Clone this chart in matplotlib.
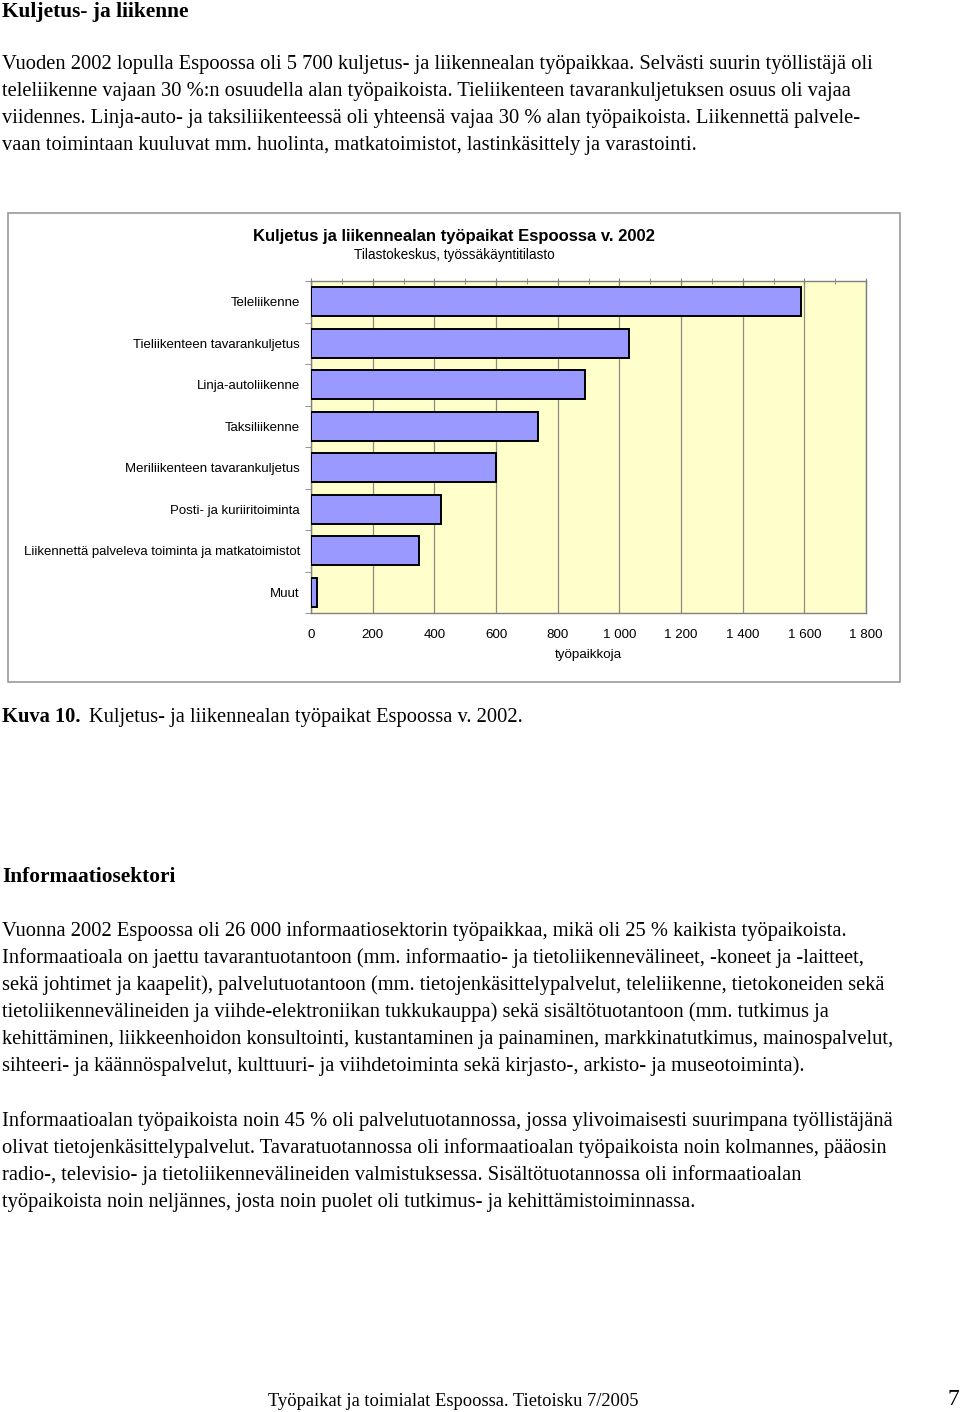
import matplotlib
matplotlib.use("Agg")
import matplotlib.pyplot as plt
from matplotlib.patches import Rectangle
from matplotlib.ticker import MultipleLocator, FixedLocator, FuncFormatter

categories = [
    "Teleliikenne",
    "Tieliikenteen tavarankuljetus",
    "Linja-autoliikenne",
    "Taksiliikenne",
    "Meriliikenteen tavarankuljetus",
    "Posti- ja kuriiritoiminta",
    "Liikennettä palveleva toiminta ja matkatoimistot",
    "Muut",
]
values = [1590, 1030, 890, 735, 600, 420, 350, 20]
x_ticks = [0, 200, 400, 600, 800, 1000, 1200, 1400, 1600, 1800]

chart_title = "Kuljetus ja liikennealan työpaikat Espoossa v. 2002"
chart_subtitle = "Tilastokeskus, työssäkäyntitilasto"
x_label = "työpaikkoja"

heading1 = "Kuljetus- ja liikenne"
para1 = [
    "Vuoden 2002 lopulla Espoossa oli 5 700 kuljetus- ja liikennealan työpaikkaa. Selvästi suurin työllistäjä oli",
    "teleliikenne vajaan 30 %:n osuudella alan työpaikoista. Tieliikenteen tavarankuljetuksen osuus oli vajaa",
    "viidennes. Linja-auto- ja taksiliikenteessä oli yhteensä vajaa 30 % alan työpaikoista. Liikennettä palvele-",
    "vaan toimintaan kuuluvat mm. huolinta, matkatoimistot, lastinkäsittely ja varastointi.",
]
caption_bold = "Kuva 10."
caption_rest = "Kuljetus- ja liikennealan työpaikat Espoossa v. 2002."
heading2 = "Informaatiosektori"
para2 = [
    "Vuonna 2002 Espoossa oli 26 000 informaatiosektorin työpaikkaa, mikä oli 25 % kaikista työpaikoista.",
    "Informaatioala on jaettu tavarantuotantoon (mm. informaatio- ja tietoliikennevälineet, -koneet ja -laitteet,",
    "sekä johtimet ja kaapelit), palvelutuotantoon (mm. tietojenkäsittelypalvelut, teleliikenne, tietokoneiden sekä",
    "tietoliikennevälineiden ja viihde-elektroniikan tukkukauppa) sekä sisältötuotantoon (mm. tutkimus ja",
    "kehittäminen, liikkeenhoidon konsultointi, kustantaminen ja painaminen, markkinatutkimus, mainospalvelut,",
    "sihteeri- ja käännöspalvelut, kulttuuri- ja viihdetoiminta sekä kirjasto-, arkisto- ja museotoiminta).",
]
para3 = [
    "Informaatioalan työpaikoista noin 45 % oli palvelutuotannossa, jossa ylivoimaisesti suurimpana työllistäjänä",
    "olivat tietojenkäsittelypalvelut. Tavaratuotannossa oli informaatioalan työpaikoista noin kolmannes, pääosin",
    "radio-, televisio- ja tietoliikennevälineiden valmistuksessa. Sisältötuotannossa oli informaatioalan",
    "työpaikoista noin neljännes, josta noin puolet oli tutkimus- ja kehittämistoiminnassa.",
]
footer = "Työpaikat ja toimialat Espoossa. Tietoisku 7/2005"
page_no = "7"

W, H = 960, 1412
fig = plt.figure(figsize=(W / 100, H / 100), dpi=100)
fig.patch.set_facecolor("white")

SERIF = "Liberation Serif"
SANS = "Liberation Sans"
body_fs = 14.8
BL = 6  # baseline offset from visual line centre (px)

def fx(x):
    return x / W

def fy(y):
    return 1 - y / H

def line(x, y, s, **kw):
    fig.text(fx(x), fy(y + BL), s, family=SERIF, va="baseline", ha="left", **kw)

# page text
line(2, 11, heading1, fontsize=15.4, fontweight="bold")
for i, s in enumerate(para1):
    line(2, 63 + 27 * i, s, fontsize=body_fs)

line(2, 716, caption_bold, fontsize=body_fs, fontweight="bold")
line(89, 716, caption_rest, fontsize=body_fs)

line(2, 876, heading2, fontsize=15.4, fontweight="bold")
for i, s in enumerate(para2):
    line(2, 930 + 27 * i, s, fontsize=body_fs)
for i, s in enumerate(para3):
    line(2, 1120 + 27 * i, s, fontsize=body_fs)

line(268, 1400, footer, fontsize=13.3)
fig.text(fx(959), fy(1398 + BL + 1), page_no, family=SERIF, fontsize=17, va="baseline", ha="right")

# chart frame
frame = Rectangle((fx(8), fy(682)), fx(900) - fx(8), fy(213) - fy(682),
                  transform=fig.transFigure, fill=False, edgecolor="#9a9a9a", linewidth=1.2)
fig.add_artist(frame)

fig.text(fx(454), fy(236), chart_title, family=SANS, fontsize=12.0, fontweight="bold", va="center", ha="center")
fig.text(fx(454), fy(255), chart_subtitle, family=SANS, fontsize=9.8, va="center", ha="center")

ax = fig.add_axes([fx(311), fy(613), fx(866) - fx(311), (613 - 281) / H])
ax.set_facecolor("#FFFFCC")
ypos = list(range(len(categories)))
ax.barh(ypos, values, height=0.7, color="#9999FF", edgecolor="black", linewidth=1.4, zorder=3)
ax.set_ylim(len(categories) - 0.5, -0.5)
ax.set_xlim(0, 1800)

ax.xaxis.set_major_locator(FixedLocator(x_ticks))
ax.xaxis.set_minor_locator(MultipleLocator(100))
ax.xaxis.set_major_formatter(FuncFormatter(lambda v, p: f"{int(v):,}".replace(",", " ")))
ax.grid(axis="x", which="major", color="#8c8c80", linewidth=0.9, zorder=1)
ax.tick_params(axis="x", which="both", bottom=False, top=True, labelbottom=True, labeltop=False,
               direction="inout", length=4, color="#808080", labelsize=9.6, pad=9.5)
for lab in ax.get_xticklabels():
    lab.set_family(SANS)

ax.set_yticks(ypos)
ax.set_yticklabels(categories, family=SANS, fontsize=9.5)
ax.yaxis.set_minor_locator(FixedLocator([i - 0.5 for i in range(len(categories) + 1)]))
ax.tick_params(axis="y", which="major", length=0, pad=8)
ax.tick_params(axis="y", which="minor", length=4, direction="out", color="#808080")

ax.set_xlabel(x_label, family=SANS, fontsize=9.6, labelpad=6)

for s in ax.spines.values():
    s.set_color("#808080")
    s.set_linewidth(1.0)

fig.savefig("out.png", dpi=100, facecolor="white")
